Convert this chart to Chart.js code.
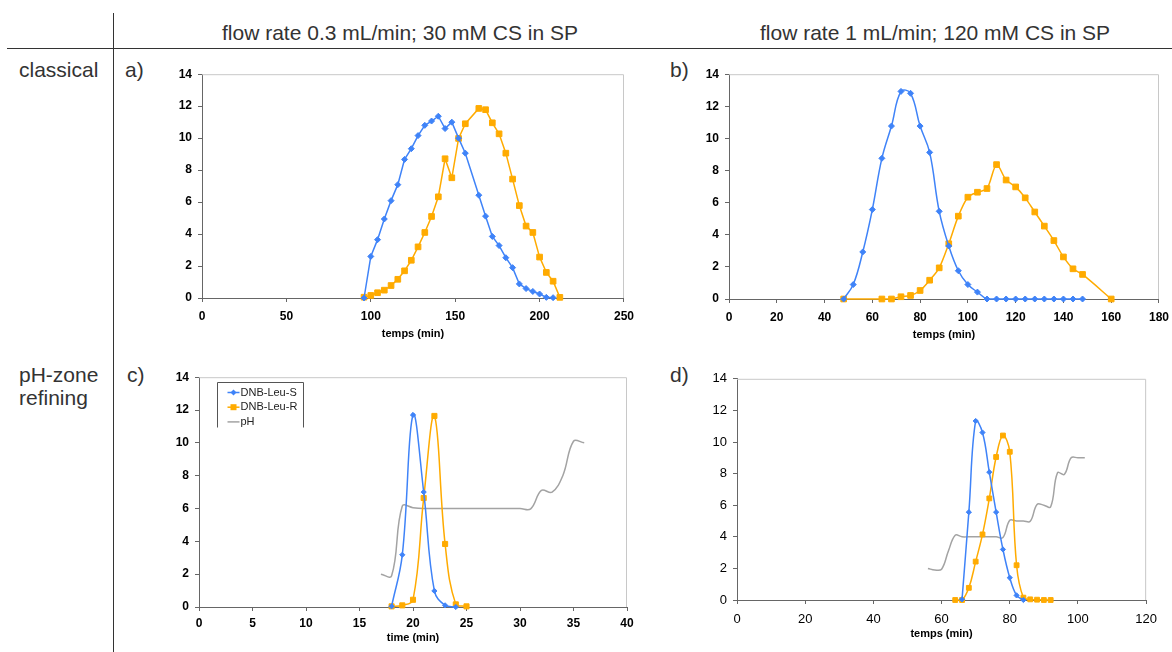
<!DOCTYPE html>
<html>
<head>
<meta charset="utf-8">
<script src="https://cdn.jsdelivr.net/npm/chart.js@4.4.0/dist/chart.umd.min.js"></script>
<style>
  body { margin: 0; background: #fff; }
  #page { position: relative; width: 1172px; height: 652px; overflow: hidden;
          font-family: "Liberation Sans", Arial, sans-serif; color: #333; }
  .t { position: absolute; font-size: 21px; line-height: 21px; white-space: nowrap; }
  .hline { position: absolute; left: 7px; top: 48px; width: 1165px; border-top: 1.5px solid #333; }
  .vline { position: absolute; left: 113px; top: 13px; height: 640px; border-left: 1.5px solid #333; }
  canvas { position: absolute; }
</style>
</head>
<body>
<div id="page">
  <div class="hline"></div>
  <div class="vline"></div>
  <div class="t" style="left:222px; top:22px;">flow rate 0.3 mL/min; 30 mM CS in SP</div>
  <div class="t" style="left:760px; top:22px;">flow rate 1 mL/min; 120 mM CS in SP</div>
  <div class="t" style="left:19px; top:59px;">classical</div>
  <div class="t" style="left:19px; top:364px;">pH-zone</div>
  <div class="t" style="left:19px; top:387px;">refining</div>
  <div class="t" style="left:125px; top:59px;">a)</div>
  <div class="t" style="left:670px; top:59px;">b)</div>
  <div class="t" style="left:127px; top:364px;">c)</div>
  <div class="t" style="left:670px; top:364px;">d)</div>
</div>
<script>
// a) classical, 0.3 mL/min
const aTimeS = [96, 100, 104, 108, 112, 116, 120, 124, 128, 132, 136, 140, 144, 148, 152, 156,
                164, 168, 172, 176, 180, 184, 188, 192, 196, 200, 204, 208];
const aLeuS  = [0, 2.6, 3.65, 4.94, 6.09, 7.09, 8.67, 9.34, 10.16, 10.8, 11.07, 11.37, 10.6, 11.0, 10.0, 9.06,
                6.43, 5.12, 3.85, 3.28, 2.52, 1.9, 0.88, 0.59, 0.41, 0.25, 0.04, 0.02];
const aTimeR = [96, 100, 104, 108, 112, 116, 120, 124, 128, 132, 136, 140, 144, 148, 152, 156,
                164, 168, 172, 176, 180, 184, 188, 192, 196, 200, 204, 208, 212];
const aLeuR  = [0.05, 0.16, 0.33, 0.49, 0.78, 1.17, 1.7, 2.36, 3.2, 4.1, 5.1, 6.33, 8.71, 7.52, 9.98, 10.9,
                11.86, 11.78, 10.96, 10.27, 9.06, 7.44, 5.78, 4.5, 4.1, 2.56, 1.6, 1.05, 0.04];

// b) classical, 1 mL/min
const bTimeS = [48, 52, 56, 60, 64, 68, 72, 76, 80, 84, 88, 92, 96, 100, 104, 108,
                112, 116, 120, 124, 128, 132, 136, 140, 144, 148];
const bLeuS  = [0, 0.9, 2.93, 5.57, 8.76, 10.77, 12.93, 12.81, 10.77, 9.13, 5.46, 3.3, 1.76, 0.9, 0.43, 0,
                0, 0, 0, 0, 0, 0, 0, 0, 0, 0];
const bTimeR = [48, 64, 68, 72, 76, 80, 84, 88, 92, 96, 100, 104, 108, 112, 116, 120,
                124, 128, 132, 136, 140, 144, 148, 160];
const bLeuR  = [0, 0, 0, 0.14, 0.22, 0.53, 1.17, 1.94, 3.44, 5.16, 6.34, 6.65, 6.88, 8.37, 7.41, 6.98,
                6.3, 5.42, 4.54, 3.64, 2.62, 1.88, 1.53, 0];

// c) pH-zone refining, 0.3 mL/min
const cTimeS = [18, 19, 20, 21, 22, 23, 24];
const cLeuS  = [0.04, 3.18, 11.7, 7.0, 0.98, 0.1, 0];
const cTimeR = [18, 19, 20, 21, 22, 23, 24, 25];
const cLeuR  = [0.04, 0.1, 0.44, 6.64, 11.64, 3.84, 0.16, 0.04];
const cTimePh = [17, 18, 19, 20, 21, 22, 23, 24, 25, 26, 27, 28, 29, 30, 31, 32, 33, 34, 35, 36];
const cPh     = [2.0, 1.9, 6.15, 6.05, 6.0, 6.0, 6.0, 6.0, 6.0, 6.0, 6.0, 6.0, 6.0, 6.0, 5.98, 7.1, 7.0, 8.0, 10.1, 10.0];

// d) pH-zone refining, 1 mL/min
const dTimeS = [66, 68, 70, 72, 74, 76, 78, 80, 82, 84];
const dLeuS  = [0.04, 5.56, 11.33, 10.6, 8.09, 5.56, 3.2, 1.41, 0.29, 0];
const dTimeR = [64, 66, 68, 70, 72, 74, 76, 78, 80, 82, 84, 86, 88, 90, 92];
const dLeuR  = [0, 0, 0.77, 2.43, 4.15, 6.43, 9.05, 10.41, 9.38, 2.2, 0.15, 0.04, 0.02, 0, 0];
const dTimePh = [56, 58, 60, 62, 64, 66, 68, 70, 72, 74, 76, 78, 80, 82, 84, 86, 88, 90, 92, 94, 96, 98, 100, 102];
const dPh     = [2.0, 1.9, 1.95, 3.1, 4.1, 4.0, 4.0, 4.0, 4.0, 4.0, 4.0, 3.95, 5.05, 5.0, 5.0, 4.98, 6.05, 6.0, 5.9, 8.05, 7.95, 9.0, 9.0, 9.0];

const seriesNames = ['DNB-Leu-S', 'DNB-Leu-R', 'pH'];

const FONT = '"Liberation Sans", Arial, sans-serif';
const BLUE = '#3f83f8', ORANGE = '#ffab00', GREY = '#a3a3a3';

function pts(xs, ys) {
  return xs.map((x, i) => ({ x: x, y: ys[i] }));
}

function line(label, xs, ys, color, shape, radius, tension) {
  return {
    label: label,
    data: pts(xs, ys),
    showLine: true,
    borderColor: color,
    backgroundColor: color,
    borderWidth: 1.5,
    pointStyle: shape || 'circle',
    pointRadius: shape ? radius : 0,
    pointBorderWidth: 1,
    tension: tension,
    clip: false
  };
}

// light grey frame on top and right of the plot area, like the Excel export
const frame = {
  id: 'frame',
  beforeDatasetsDraw(chart) {
    const { ctx, chartArea: a } = chart;
    ctx.save();
    ctx.strokeStyle = '#c8c8c8';
    ctx.lineWidth = 1;
    ctx.beginPath();
    ctx.moveTo(a.left, a.top + 0.5);
    ctx.lineTo(a.right - 0.5, a.top + 0.5);
    ctx.lineTo(a.right - 0.5, a.bottom);
    ctx.stroke();
    ctx.restore();
  }
};

// legend box in the corner of chart c (bottom edge is cut off in the original)
const boxLegend = {
  id: 'boxLegend',
  afterDraw(chart, args, opts) {
    if (!opts.show) return;
    const { ctx, chartArea: a } = chart;
    const x0 = Math.round(a.left + 18) + 0.5, y0 = Math.round(a.top + 5) + 0.5, w = 86, h = 45;
    ctx.save();
    ctx.strokeStyle = '#555';
    ctx.lineWidth = 1;
    ctx.beginPath();
    ctx.moveTo(x0, y0 + h);
    ctx.lineTo(x0, y0);
    ctx.lineTo(x0 + w, y0);
    ctx.lineTo(x0 + w, y0 + h);
    ctx.stroke();
    chart.data.datasets.forEach((ds, i) => {
      const y = y0 + 10 + i * 14.7;
      ctx.strokeStyle = ds.borderColor;
      ctx.fillStyle = ds.backgroundColor;
      ctx.lineWidth = 1.5;
      ctx.beginPath();
      ctx.moveTo(x0 + 10, y);
      ctx.lineTo(x0 + 22, y);
      ctx.stroke();
      const cx = x0 + 16;
      if (ds.pointRadius && ds.pointStyle === 'rectRot') {
        ctx.beginPath();
        ctx.moveTo(cx, y - 3); ctx.lineTo(cx + 3, y); ctx.lineTo(cx, y + 3); ctx.lineTo(cx - 3, y);
        ctx.closePath();
        ctx.fill();
      } else if (ds.pointRadius) {
        ctx.fillRect(cx - 3, y - 3, 6, 6);
      }
      ctx.fillStyle = '#222';
      ctx.font = '11px ' + FONT;
      ctx.textBaseline = 'middle';
      ctx.fillText(ds.label, x0 + 23, y);
    });
    ctx.restore();
  }
};

function axis(p, which) {
  const isX = which === 'x';
  const o = {
    type: 'linear',
    min: 0,
    max: isX ? p.xMax : 14,
    ticks: {
      stepSize: isX ? p.xStep : 2,
      color: '#000',
      font: { family: FONT, size: p.tickSize, weight: p.tickWeight },
      padding: isX ? p.xPad : 6,
      maxRotation: 0
    },
    grid: { drawOnChartArea: false, drawTicks: true, tickLength: 4, color: '#666' },
    border: { color: '#666', width: 1 }
  };
  if (isX) {
    o.title = { display: true, text: p.xTitle, color: '#000',
                font: { family: FONT, size: 11, weight: 'bold' }, padding: { top: 0, bottom: 2 } };
    o.afterFit = s => { s.height = p.xH; };
  } else {
    o.afterFit = s => { s.width = p.yW; };
  }
  return o;
}

function makeChart(p, datasets) {
  const pad = { top: 10, right: 16, bottom: 2, left: 0 };
  const left = p.plot[0] - p.yW - pad.left;
  const top = p.plot[2] - pad.top;
  const width = p.plot[1] + pad.right - left;
  const height = p.plot[3] + p.xH + pad.bottom - top;
  const cv = document.createElement('canvas');
  cv.width = width;
  cv.height = height;
  cv.style.left = left + 'px';
  cv.style.top = top + 'px';
  document.getElementById('page').appendChild(cv);
  return new Chart(cv, {
    type: 'scatter',
    data: { datasets: datasets },
    options: {
      responsive: false,
      animation: false,
      devicePixelRatio: 1,
      events: [],
      layout: { padding: pad },
      scales: { x: axis(p, 'x'), y: axis(p, 'y') },
      plugins: {
        legend: { display: false },
        tooltip: { enabled: false },
        boxLegend: { show: !!p.legend }
      }
    },
    plugins: [frame, boxLegend]
  });
}

// plot = [left, right, top, bottom] of the plot area on the page
makeChart({ plot: [202, 625, 71, 298], yW: 44, xH: 45, xPad: 7, xMax: 250, xStep: 50,
            xTitle: 'temps (min)', tickSize: 12, tickWeight: 'bold' },
  [line(seriesNames[0], aTimeS, aLeuS, BLUE, 'rectRot', 3, 0),
   line(seriesNames[1], aTimeR, aLeuR, ORANGE, 'rect', 4, 0)]);

makeChart({ plot: [729, 1160, 71, 299], yW: 44, xH: 45, xPad: 7, xMax: 180, xStep: 20,
            xTitle: 'temps (min)', tickSize: 12, tickWeight: 'bold' },
  [line(seriesNames[0], bTimeS, bLeuS, BLUE, 'rectRot', 3, 0.4),
   line(seriesNames[1], bTimeR, bLeuR, ORANGE, 'rect', 4, 0.3)]);

makeChart({ plot: [199, 627, 374, 607], yW: 44, xH: 40, xPad: 5, xMax: 40, xStep: 5,
            xTitle: 'time (min)', tickSize: 12, tickWeight: 'bold', legend: true },
  [line(seriesNames[0], cTimeS, cLeuS, BLUE, 'rectRot', 2.6, 0.4),
   line(seriesNames[1], cTimeR, cLeuR, ORANGE, 'rect', 3.6, 0.4),
   line(seriesNames[2], cTimePh, cPh, GREY, null, 0, 0.4)]);

makeChart({ plot: [737, 1149, 375, 600], yW: 44, xH: 43, xPad: 8, xMax: 120, xStep: 20,
            xTitle: 'temps (min)', tickSize: 13, tickWeight: 'normal' },
  [line(seriesNames[0], dTimeS, dLeuS, BLUE, 'rectRot', 2.6, 0.4),
   line(seriesNames[1], dTimeR, dLeuR, ORANGE, 'rect', 3.4, 0.4),
   line(seriesNames[2], dTimePh, dPh, GREY, null, 0, 0.4)]);
</script>
</body>
</html>
